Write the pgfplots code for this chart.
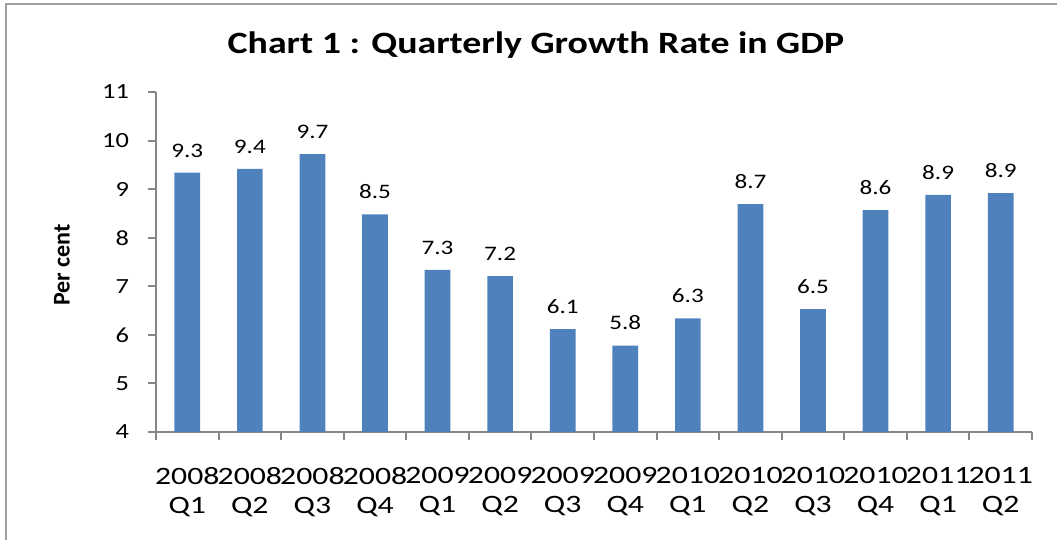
\documentclass[border=0pt]{standalone}
\usepackage{fontspec}
\setmainfont[FakeStretch=1.22]{Carlito}
\newfontfamily\plainfont{Carlito}
\newfontfamily\widefont[FakeStretch=1.27]{Carlito}
\usepackage{pgfplots}
\pgfplotsset{compat=1.18}
\definecolor{barblue}{HTML}{4F81BD}
\definecolor{axgray}{HTML}{868686}
\begin{document}
\begin{tikzpicture}
\useasboundingbox (0pt,0pt) rectangle (528.5pt,270pt);
\draw[gray!75, line width=1pt] (3pt,0pt) -- (3pt,268pt) -- (528.5pt,268pt);
\node[font=\bfseries\fontsize{15.5}{18}\selectfont] at (268pt,247.5pt) {Chart 1 : Quarterly Growth Rate in GDP};
\node[font=\plainfont\bfseries\fontsize{12}{14}\selectfont, rotate=90] at (31pt,137.5pt) {Per cent};
\begin{axis}[
  at={(78pt,54pt)}, anchor=south west,
  scale only axis, width=438pt, height=170pt,
  ymin=4, ymax=11, ytick={4,5,...,11},
  xmin=-0.5, xmax=13.5,
  axis x line=bottom, axis y line=left,
  axis line style={axgray, line width=1pt, -},
  xtick={0,...,13},
  xticklabels={{2008\\Q1},{2008\\Q2},{2008\\Q3},{2008\\Q4},{2009\\Q1},{2009\\Q2},{2009\\Q3},{2009\\Q4},{2010\\Q1},{2010\\Q2},{2010\\Q3},{2010\\Q4},{2011\\Q1},{2011\\Q2}},
  minor xtick={-0.5,0.5,...,13.5},
  major x tick style={draw=none},
  minor x tick style={axgray, line width=1pt},
  y tick style={axgray, line width=1pt},
  major tick length=4pt, minor tick length=4pt,
  tick align=outside,
  xticklabel style={align=center, font=\widefont\fontsize{12.5}{14.5}\selectfont, yshift=-10pt},
  yticklabel style={font=\fontsize{10.8}{12}\selectfont, xshift=-6pt},
  /pgf/number format/assume math mode=true,
  ybar, bar width=0.41,
  nodes near coords,
  nodes near coords style={font=\fontsize{10.3}{12}\selectfont, /pgf/number format/fixed, /pgf/number format/precision=1, /pgf/number format/fixed zerofill, /pgf/number format/assume math mode=true, anchor=south, inner sep=0pt, yshift=7.5pt},
  clip=false,
]
\addplot[fill=barblue, draw=none] coordinates {
(0,9.34) (1,9.42) (2,9.72) (3,8.48) (4,7.34) (5,7.21) (6,6.12) (7,5.78) (8,6.34) (9,8.69) (10,6.53) (11,8.57) (12,8.88) (13,8.92)
};
\end{axis}
\end{tikzpicture}
\end{document}
